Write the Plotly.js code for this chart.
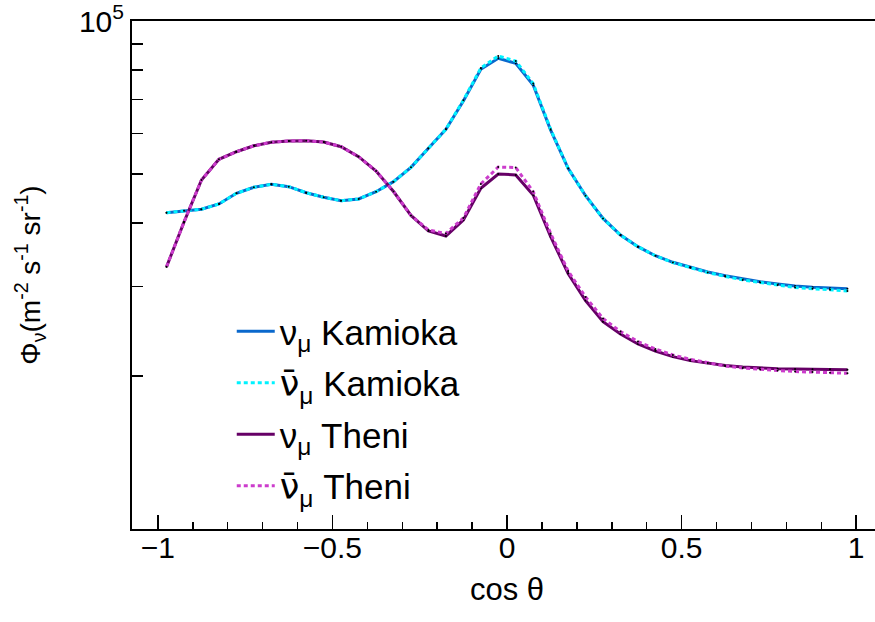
<!DOCTYPE html>
<html>
<head>
<meta charset="utf-8">
<script src="https://cdn.plot.ly/plotly-3.0.1.min.js"></script>
<style>
  html, body { margin: 0; padding: 0; overflow: hidden; background: #fff; }
  #chart { width: 900px; height: 622px; }
</style>
</head>
<body>
<div id="chart"></div>
<script>
// Bin centres in cos(theta)
const cosTheta = [
  -0.975, -0.925, -0.875, -0.825, -0.775, -0.725, -0.675, -0.625, -0.575, -0.525,
  -0.475, -0.425, -0.375, -0.325, -0.275, -0.225, -0.175, -0.125, -0.075, -0.025,
   0.025,  0.075,  0.125,  0.175,  0.225,  0.275,  0.325,  0.375,  0.425,  0.475,
   0.525,  0.575,  0.625,  0.675,  0.725,  0.775,  0.825,  0.875,  0.925,  0.975
];

// Muon-neutrino flux, Kamioka (m^-2 s^-1 sr^-1)
const numuKamioka = [
  41950, 42330, 42600, 43640, 45790, 47060, 47700, 47190, 45920, 44980,
  44290, 44630, 46130, 48280, 51520, 56160, 61200, 69580, 80330, 84440,
  82540, 74820, 61000, 51290, 45300, 40860, 37900, 35950, 34510, 33500,
  32750, 32060, 31520, 31050, 30680, 30360, 30080, 29910, 29770, 29720
];

// Muon-antineutrino flux, Kamioka
const numubarKamioka = [
  41950, 42330, 42600, 43640, 45790, 47060, 47700, 47190, 45920, 44980,
  44290, 44630, 46130, 48280, 51520, 56160, 61200, 69800, 80810, 85330,
  83400, 75340, 61200, 51290, 45300, 40860, 37900, 35950, 34510, 33450,
  32680, 31980, 31420, 30930, 30570, 30230, 29880, 29720, 29580, 29420
];

// Muon-neutrino flux, Theni
const numuTheni = [
  32830, 40210, 48640, 53430, 55290, 56810, 57700, 58050, 58130, 57780,
  56560, 54060, 50670, 46170, 41420, 38600, 37740, 40580, 46850, 49990,
  49770, 45450, 37620, 31840, 28170, 25590, 24200, 23130, 22410, 21840,
  21450, 21200, 20990, 20840, 20750, 20680, 20650, 20620, 20620, 20590
];

// Muon-antineutrino flux, Theni
const numubarTheni = [
  32830, 40210, 48640, 53430, 55290, 56810, 57700, 58050, 58130, 57780,
  56560, 54060, 50670, 46170, 41420, 38780, 38170, 40950, 47770, 51590,
  51470, 46170, 38170, 32200, 28620, 25970, 24470, 23390, 22610, 22010,
  21570, 21230, 20940, 20750, 20610, 20510, 20420, 20370, 20310, 20250
];

// ν with a bar on top, set in a font that composes the combining macron
const NUBAR = '<span style="font-family:DejaVu Sans">ν\u0304</span>';
const seriesNames = [
  'ν<sub>μ</sub> Kamioka',
  NUBAR + '<sub>μ</sub> Kamioka',
  'ν<sub>μ</sub> Theni',
  NUBAR + '<sub>μ</sub> Theni'
];

// Log-axis ticks: one decade, only the top one labelled
const yTickVals = [10000, 20000, 30000, 40000, 50000, 60000, 70000, 80000, 90000, 100000];
const yTickText = ['', '', '', '', '', '', '', '', '', '10<sup>5</sup>'];

const FONT = 'Liberation Sans, Arial, Helvetica, sans-serif';

const seriesData = [numuKamioka, numubarKamioka, numuTheni, numubarTheni];
const seriesLines = [
  { color: '#0a68cc', width: 3, dash: 'solid' },
  { color: '#00f2ff', width: 3, dash: '4px,3px' },
  { color: '#660066', width: 3, dash: 'solid' },
  { color: '#cc3ccc', width: 3, dash: '4px,3px' }
];

const traces = [];
seriesData.forEach((ys, i) => {
  traces.push({
    x: cosTheta, y: ys, type: 'scatter', mode: 'lines',
    name: seriesNames[i], legendgroup: 'g' + i,
    line: seriesLines[i], hoverinfo: 'skip'
  });
  traces.push({
    x: cosTheta, y: ys, type: 'scatter', mode: 'markers',
    showlegend: false, hoverinfo: 'skip',
    marker: { color: '#000', size: 2 }
  });
});

const layout = {
  width: 900, height: 622,
  margin: { l: 132, r: 18, t: 21, b: 93 },
  paper_bgcolor: '#fff', plot_bgcolor: '#fff',
  font: { family: FONT, color: '#000', size: 30 },
  showlegend: true,
  legend: {
    x: 0.133, y: 0.447, xanchor: 'left', yanchor: 'top',
    bgcolor: 'rgba(0,0,0,0)', font: { size: 35, family: FONT },
    itemwidth: 38, traceorder: 'grouped', tracegroupgap: 3
  },
  xaxis: {
    range: [-1.074, 1.074],
    tick0: 0, dtick: 0.5,
    ticks: 'inside', ticklen: 14, tickwidth: 1.5, tickcolor: '#000',
    minor: { dtick: 0.1, ticks: 'inside', ticklen: 7, tickwidth: 1.5, tickcolor: '#000' },
    showline: true, linecolor: '#000', linewidth: 2, mirror: true,
    showgrid: false, zeroline: false,
    ticklabelstandoff: -9,
    tickfont: { size: 30, family: FONT },
    title: { text: 'cos θ', font: { size: 31, family: FONT }, standoff: 15 }
  },
  yaxis: {
    type: 'log', range: [4, 5],
    tickmode: 'array', tickvals: yTickVals, ticktext: yTickText,
    ticks: 'inside', ticklen: 11, tickwidth: 1.5, tickcolor: '#000',
    ticklabeloverflow: 'allow',
    showline: true, linecolor: '#000', linewidth: 2, mirror: true,
    showgrid: false, zeroline: false,
    tickfont: { size: 30, family: FONT },
    title: {
      text: 'Φ<sub>ν</sub>(m<sup>-2</sup> s<sup>-1</sup> sr<sup>-1</sup>)',
      font: { size: 28, family: FONT }, standoff: 30
    }
  }
};

Plotly.newPlot('chart', traces, layout, { staticPlot: true, displayModeBar: false });
</script>
</body>
</html>
